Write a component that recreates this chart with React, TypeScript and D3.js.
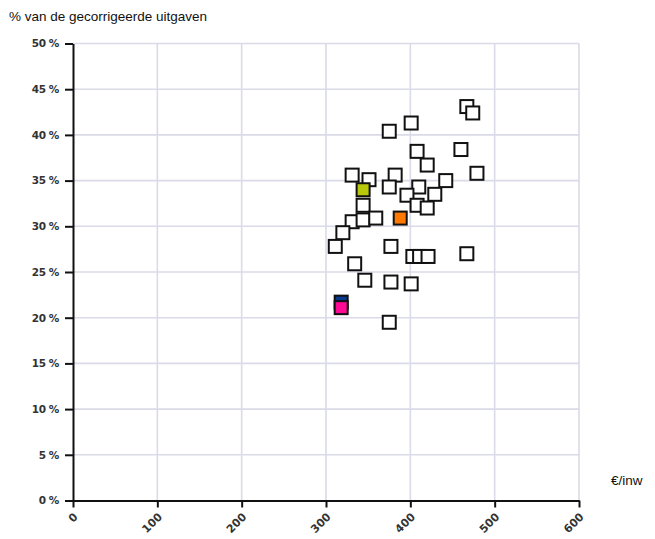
import { useEffect, useRef } from "react";
import * as d3 from "d3";

// municipalities: spending per inhabitant vs share of corrected expenses
const spend = [
  467, 474, 375, 401, 408, 420, 460, 479, 331, 351, 382, 375, 344, 410, 396,
  429, 442, 408, 420, 331, 344, 359, 320, 311, 377, 403, 411, 421, 467, 334,
  346, 377, 401, 375,
];
const share = [
  43.1, 42.4, 40.4, 41.3, 38.2, 36.7, 38.4, 35.8, 35.6, 35.1, 35.6, 34.3, 32.3,
  34.3, 33.4, 33.5, 35.0, 32.3, 32.0, 30.5, 30.7, 30.9, 29.3, 27.8, 27.8, 26.7,
  26.7, 26.7, 27.0, 25.9, 24.1, 23.9, 23.7, 19.5,
];

// highlighted municipalities
const highlightSpend = [344, 388, 318, 318];
const highlightShare = [34.0, 30.9, 21.7, 21.1];
const highlightColors = ["#b8c80a", "#ff7800", "#0a3a8c", "#ff0a94"];

const xTicks = [0, 100, 200, 300, 400, 500, 600];
const yTicks = [0, 5, 10, 15, 20, 25, 30, 35, 40, 45, 50];

const W = 655,
  H = 539;
const left = 73,
  right = 579,
  top = 43.5,
  bottom = 500.5;

function App() {
  const svgRef = useRef(null);

  useEffect(() => {
    const svg = d3.select(svgRef.current);
    svg.selectAll("*").remove();

    const x = d3.scaleLinear().domain([0, 600]).range([left, right]);
    const y = d3.scaleLinear().domain([0, 50]).range([bottom, top]);

    // grid
    svg
      .selectAll(".vgrid")
      .data(xTicks.slice(1))
      .enter()
      .append("line")
      .attr("x1", (d) => x(d))
      .attr("x2", (d) => x(d))
      .attr("y1", top)
      .attr("y2", bottom)
      .attr("stroke", "#dadae8")
      .attr("stroke-width", 1.6);

    svg
      .selectAll(".hgrid")
      .data(yTicks.slice(1))
      .enter()
      .append("line")
      .attr("x1", left)
      .attr("x2", right)
      .attr("y1", (d) => y(d))
      .attr("y2", (d) => y(d))
      .attr("stroke", "#dadae8")
      .attr("stroke-width", 1.6);

    // axes
    const xAxis = d3.axisBottom(x).tickValues(xTicks).tickSize(7).tickSizeOuter(0);
    const gx = svg
      .append("g")
      .attr("transform", "translate(0," + bottom + ")")
      .call(xAxis);
    gx.select(".domain").attr("stroke", "#111").attr("stroke-width", 2);
    gx.selectAll(".tick line").attr("stroke", "#111").attr("stroke-width", 2);
    gx.selectAll("text")
      .attr("font-family", "DejaVu Sans, Verdana, sans-serif")
      .attr("font-size", 11)
      .attr("font-weight", "bold")
      .attr("fill", "#333")
      .style("text-anchor", "end")
      .attr("dy", null)
      .attr("y", 0)
      .attr("x", 0)
      .attr("transform", "translate(5,17) rotate(-45)");

    const yAxis = d3
      .axisLeft(y)
      .tickValues(yTicks)
      .tickSize(8)
      .tickSizeOuter(0)
      .tickFormat((d) => d + " %");
    const gy = svg
      .append("g")
      .attr("transform", "translate(" + left + ",0)")
      .call(yAxis);
    gy.select(".domain").attr("stroke", "#111").attr("stroke-width", 2);
    gy.selectAll(".tick line").attr("stroke", "#111").attr("stroke-width", 2);
    gy.selectAll("text")
      .attr("font-family", "DejaVu Sans, Verdana, sans-serif")
      .attr("font-size", 10.5)
      .attr("font-weight", "bold")
      .attr("fill", "#333")
      .attr("letter-spacing", -0.4)
      .attr("x", -14);

    // points
    const pts = spend.map((s, i) => ({ s, p: share[i], c: "#ffffff" }));
    highlightSpend.forEach((s, i) =>
      pts.push({ s, p: highlightShare[i], c: highlightColors[i] })
    );

    svg
      .selectAll(".pt")
      .data(pts)
      .enter()
      .append("rect")
      .attr("x", (d) => x(d.s) - 6.5)
      .attr("y", (d) => y(d.p) - 6.5)
      .attr("width", 13)
      .attr("height", 13)
      .attr("fill", (d) => d.c)
      .attr("stroke", "#111")
      .attr("stroke-width", 2);

    // titles
    svg
      .append("text")
      .attr("x", 9)
      .attr("y", 21)
      .attr("font-family", "Liberation Sans, Arial, sans-serif")
      .attr("font-size", 13.5)
      .attr("fill", "#111")
      .text("% van de gecorrigeerde uitgaven");

    svg
      .append("text")
      .attr("x", 611)
      .attr("y", 485)
      .attr("font-family", "Liberation Sans, Arial, sans-serif")
      .attr("font-size", 13.5)
      .attr("fill", "#111")
      .text("€/inw");
  }, []);

  return (
    <svg
      ref={svgRef}
      width={W}
      height={H}
      style={{ position: "absolute", left: 0, top: 0, background: "#fff" }}
    ></svg>
  );
}

export default App;
